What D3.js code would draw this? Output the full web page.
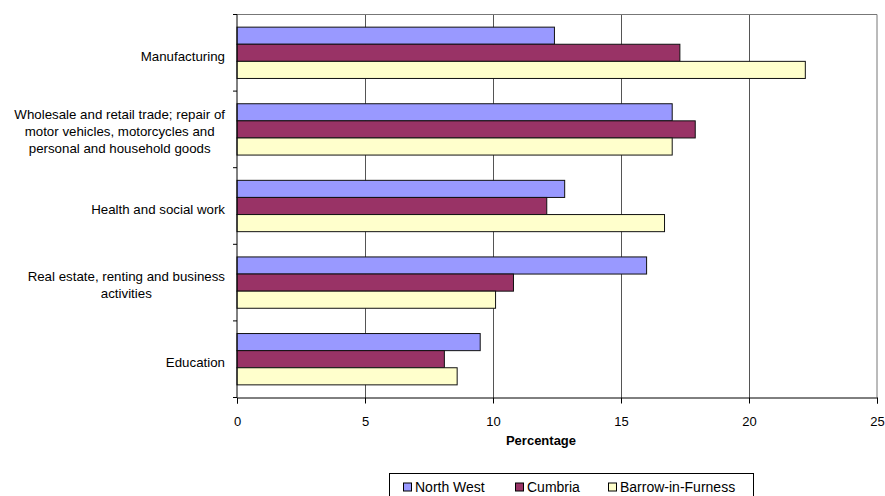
<!DOCTYPE html>
<html>
<head>
<meta charset="utf-8">
<script src="https://cdn.jsdelivr.net/npm/d3@7"></script>
<style>
  html, body { margin: 0; padding: 0; background: #fff; }
  svg { display: block; }
  text { font-family: "Liberation Sans", Arial, sans-serif; fill: #000; }
</style>
</head>
<body>
<svg id="chart" width="885" height="496"></svg>
<script>
const categories = [
  "Manufacturing",
  "Wholesale and retail trade; repair of|motor vehicles, motorcycles and|personal and household goods",
  "Health and social work",
  "Real estate, renting and business|activities",
  "Education"
];
const seriesNames = ["North West", "Cumbria", "Barrow-in-Furness"];
const northWest = [12.4, 17.0, 12.8, 16.0, 9.5];
const cumbria   = [17.3, 17.9, 12.1, 10.8, 8.1];
const barrow    = [22.2, 17.0, 16.7, 10.1, 8.6];
const xTicks = [0, 5, 10, 15, 20, 25];
const colors = ["#9999FF", "#993366", "#FFFFCC"];

const seriesValues = [northWest, cumbria, barrow];
const svg = d3.select("#chart");

const plot = { left: 237, right: 877, top: 14.5, bottom: 397.5 };

const x = d3.scaleLinear().domain([0, 25]).range([plot.left, plot.right]);
const y0 = d3.scaleBand().domain(d3.range(categories.length))
  .range([plot.top, plot.bottom]).paddingInner(0.33).paddingOuter(0.165);
const y1 = d3.scaleBand().domain(d3.range(seriesNames.length))
  .range([0, y0.bandwidth()]);

// gridlines
svg.append("g").selectAll("line").data(xTicks.filter(t => t > 0 && t < 25)).join("line")
  .attr("x1", d => Math.round(x(d)) + 0.5).attr("x2", d => Math.round(x(d)) + 0.5)
  .attr("y1", plot.top).attr("y2", plot.bottom)
  .attr("stroke", "#555").attr("stroke-width", 1);

// plot border top/right
svg.append("path")
  .attr("d", `M${plot.left},${plot.top}H${plot.right}V${plot.bottom}`)
  .attr("fill", "none").attr("stroke", "#777").attr("stroke-width", 1);

// bars
const groups = svg.append("g").selectAll("g").data(categories.map((c, i) => i)).join("g")
  .attr("transform", i => `translate(0,${y0(i)})`);
groups.selectAll("rect")
  .data(i => seriesValues.map((vals, s) => ({ s, v: vals[i] })))
  .join("rect")
  .attr("x", x(0))
  .attr("y", d => y1(d.s))
  .attr("width", d => x(d.v) - x(0))
  .attr("height", y1.bandwidth())
  .attr("fill", d => colors[d.s])
  .attr("stroke", "#111").attr("stroke-width", 1);

// bottom axis
const xAxis = d3.axisBottom(x).tickValues(xTicks).tickSize(6).tickPadding(13).tickFormat(d3.format("d"));
const gx = svg.append("g").attr("transform", `translate(0,${plot.bottom})`).call(xAxis);
gx.select(".domain").attr("stroke", "#000");
gx.selectAll(".tick line").attr("stroke", "#000");
gx.selectAll(".tick text").style("font-size", "13px").attr("fill", "#000")
  .style("font-family", "'Liberation Sans', Arial, sans-serif");

// left axis line + ticks at band boundaries
const step = y0.step();
const bounds = d3.range(categories.length + 1).map(i => plot.top + i * step);
svg.append("line").attr("x1", plot.left).attr("x2", plot.left)
  .attr("y1", plot.top).attr("y2", plot.bottom).attr("stroke", "#000");
svg.append("g").selectAll("line").data(bounds).join("line")
  .attr("x1", plot.left - 4).attr("x2", plot.left)
  .attr("y1", d => d).attr("y2", d => d).attr("stroke", "#000");

// category labels (block right-aligned, lines centered)
const labelRight = 225;
const lineH = 17;
categories.forEach((c, i) => {
  const lines = c.split("|");
  const cy = y0(i) + y0.bandwidth() / 2 + (lines.length > 1 ? 2 : 3.5);
  const g = svg.append("g");
  const texts = lines.map((ln, k) => g.append("text")
    .attr("y", cy + (k - (lines.length - 1) / 2) * lineH)
    .attr("dy", "0.35em")
    .attr("text-anchor", "middle")
    .style("font-size", "13.3px")
    .text(ln));
  const maxW = d3.max(texts, t => t.node().getComputedTextLength());
  texts.forEach(t => t.attr("x", labelRight - maxW / 2));
});

// axis title
svg.append("text").attr("x", 541).attr("y", 440).attr("dy", "0.35em")
  .attr("text-anchor", "middle").style("font-size", "13px").style("font-weight", "bold")
  .text("Percentage");

// legend
const lg = svg.append("g");
lg.append("rect").attr("x", 389.5).attr("y", 473.5).attr("width", 364).attr("height", 40)
  .attr("fill", "#fff").attr("stroke", "#000");
const legendX = [403.5, 515.5, 608.5];
seriesNames.forEach((n, s) => {
  lg.append("rect").attr("x", legendX[s]).attr("y", 483).attr("width", 8).attr("height", 8)
    .attr("fill", colors[s]).attr("stroke", "#000");
  lg.append("text").attr("x", legendX[s] + 11.5).attr("y", 487).attr("dy", "0.35em")
    .style("font-size", "14px").text(n);
});
</script>
</body>
</html>
